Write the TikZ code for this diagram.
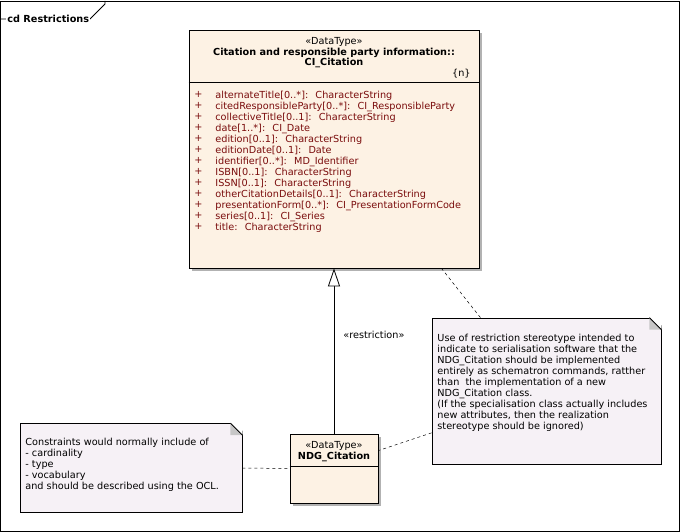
\documentclass[tikz,border=0pt]{standalone}
\usepackage{fontspec}
\setmainfont{DejaVu Sans}
\usetikzlibrary{arrows.meta,shadows}

\definecolor{classfill}{RGB}{253,242,228}
\definecolor{notefill}{RGB}{246,241,246}
\definecolor{attrred}{RGB}{122,12,12}

\tikzset{
  classbox/.style={shape=rectangle,draw=black,fill=classfill,inner sep=0pt,
    drop shadow={shadow xshift=3pt,shadow yshift=-3pt,fill=black!30,opacity=1}},
  notebox/.style={shape=rectangle,draw=black,fill=notefill,inner sep=0pt},
  umltext/.style={font=\fontsize{9.7}{11}\selectfont,inner sep=0pt},
  umlbold/.style={font=\fontsize{9.7}{11}\selectfont\bfseries,inner sep=0pt},
  notetext/.style={umltext,align=left,anchor=north west},
  attrtext/.style={umltext,text=attrred,align=left,anchor=north west},
  noteline/.style={dash pattern=on 3pt off 3pt,line width=0.5pt},
}

\begin{document}
\begin{tikzpicture}[x=1pt,y=-1pt,line width=0.8pt]
    \useasboundingbox (0,0) rectangle (680,532);
    % diagram frame
    \draw (0.5,1) rectangle (679.5,531.5);
    \draw (0.5,19) -- (90,19) -- (105,4) -- (105,1);
    \node[umlbold,fill=white,inner xsep=1pt,anchor=west] (frame) at (6,19) {cd Restrictions};

    % classes
    \node[classbox,minimum width=290,minimum height=238] (citation) at (334,149) {};
    \node[classbox,minimum width=88,minimum height=69] (ndg) at (334,468.5) {};
    \draw ([yshift=-53pt]citation.north west) -- ([yshift=-53pt]citation.north east);
    \draw ([yshift=-33pt]ndg.north west) -- ([yshift=-33pt]ndg.north east);

    \node[umltext] (citation-st) at (334,42) {«DataType»};
    \node[umlbold] (citation-pkg) at (334,52.5) {Citation and responsible party information::};
    \node[umlbold] (citation-name) at (334,63) {CI\_Citation};
    \node[umltext,anchor=east] (citation-tag) at (471,74) {\{n\}};
    \node[attrtext] (citation-vis) at (194,91) {+\\+\\+\\+\\+\\+\\+\\+\\+\\+\\+\\+\\+};
    \node[attrtext] (citation-attr) at (215,91) {alternateTitle[0..*]:~ CharacterString\\
        citedResponsibleParty[0..*]:~ CI\_ResponsibleParty\\
        collectiveTitle[0..1]:~ CharacterString\\
        date[1..*]:~ CI\_Date\\
        edition[0..1]:~ CharacterString\\
        editionDate[0..1]:~ Date\\
        identifier[0..*]:~ MD\_Identifier\\
        ISBN[0..1]:~ CharacterString\\
        ISSN[0..1]:~ CharacterString\\
        otherCitationDetails[0..1]:~ CharacterString\\
        presentationForm[0..*]:~ CI\_PresentationFormCode\\
        series[0..1]:~ CI\_Series\\
        title:~ CharacterString};

    \node[umltext] (ndg-st) at (334,446) {«DataType»};
    \node[umlbold] (ndg-name) at (334,457) {NDG\_Citation};

    % notes
    \node[notebox,minimum width=229,minimum height=146] (restrnote) at (546.5,391) {};
    \node[notebox,minimum width=222,minimum height=89] (constrnote) at (131,468) {};
    \fill[white] ([xshift=-12pt]restrnote.north east) -- ([xshift=1pt,yshift=1pt]restrnote.north east) -- ([yshift=-12pt]restrnote.north east) -- cycle;
    \fill[black!22] ([xshift=-12pt]restrnote.north east) -- ([yshift=-12pt]restrnote.north east) -- ([xshift=-12pt,yshift=-12pt]restrnote.north east) -- cycle;
    \draw ([xshift=-12pt]restrnote.north east) -- ([yshift=-12pt]restrnote.north east);
    \fill[white] ([xshift=-12pt]constrnote.north east) -- ([xshift=1pt,yshift=1pt]constrnote.north east) -- ([yshift=-12pt]constrnote.north east) -- cycle;
    \fill[black!22] ([xshift=-12pt]constrnote.north east) -- ([yshift=-12pt]constrnote.north east) -- ([xshift=-12pt,yshift=-12pt]constrnote.north east) -- cycle;
    \draw ([xshift=-12pt]constrnote.north east) -- ([yshift=-12pt]constrnote.north east);

    \node[notetext] (restrnote-text) at (437,334) {Use of restriction stereotype intended to\\
        indicate to serialisation software that the\\
        NDG\_Citation should be implemented\\
        entirely as schematron commands, ratther\\
        than~ the implementation of a new\\
        NDG\_Citation class.\\
        (If the specialisation class actually includes\\
        new attributes, then the realization\\
        stereotype should be ignored)};
    \node[notetext] (constrnote-text) at (25,438) {Constraints would normally include of\\
        - cardinality\\
        - type\\
        - vocabulary\\
        and should be described using the OCL.};

    % connectors
    \path[-{Triangle[length=18pt,width=12pt,fill=white]}]
    (ndg) edge node[umltext, pos=0.6, anchor=west, xshift=9pt] {«restriction»} (citation)
    ;
    \path[noteline]
    (restrnote.132) edge (citation.-48)
    (restrnote.200) edge (ndg.22)
    (constrnote.east) edge (ndg.west)
    ;
\end{tikzpicture}
\end{document}
